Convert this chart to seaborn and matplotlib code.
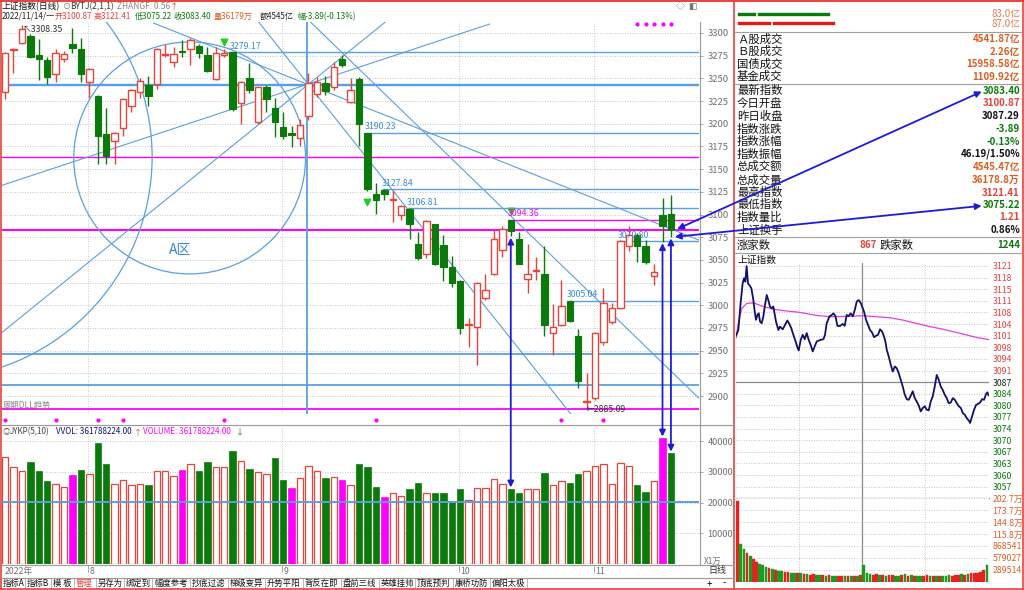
import numpy as np
import pandas as pd
import matplotlib.pyplot as plt
import seaborn as sns
from matplotlib.patches import Ellipse, ConnectionPatch
from matplotlib.lines import Line2D
from matplotlib.colors import to_rgba

# ---- 上证指数 日线 2022-07-18 .. 2022-11-14 ----
opens = [3235, 3281, 3289, 3297, 3276, 3270, 3255, 3271, 3288, 3282,
         3246, 3231, 3189, 3181, 3195, 3219, 3235, 3243, 3244, 3276,
         3268, 3279.5, 3282, 3286, 3276, 3249, 3276, 3278.7, 3223, 3250,
         3202, 3240, 3217, 3196, 3190, 3184, 3208, 3233, 3245, 3241,
         3271, 3224, 3249, 3190.23, 3123, 3127, 3116, 3100, 3106, 3068,
         3057, 3089, 3066, 3042, 3027, 2978, 2976, 3008, 3034, 3061,
         3094.36, 3073, 3029, 3038, 3034, 2969, 2978, 3005.04, 2966, 2893,
         2897.5, 2960, 2982, 2997, 3065, 3077, 3065, 3032, 3099, 3100.87]
highs = [3279, 3284, 3308.35, 3299, 3293, 3273, 3282, 3280, 3305, 3294,
         3261, 3232, 3217, 3191, 3228, 3238, 3250, 3253, 3283, 3288,
         3285, 3292, 3294, 3288, 3285, 3285, 3282, 3279.17, 3247, 3267,
         3241, 3243, 3228, 3213, 3197, 3205, 3256, 3251, 3253, 3268,
         3276, 3250, 3252, 3190.23, 3135, 3127.84, 3127, 3111, 3106.81, 3081,
         3094, 3090, 3077, 3054, 3028, 2986, 3026, 3035, 3083, 3087,
         3094.36, 3081, 3068, 3053, 3065, 3001, 3028, 3005.04, 2974, 2925,
         2970, 3019, 3002, 3072, 3087, 3080, 3072, 3046, 3118, 3121.41]
lows = [3227, 3256, 3288, 3272, 3248, 3244, 3246, 3268, 3278, 3246,
        3228, 3156, 3156, 3156, 3186, 3213, 3228, 3219, 3238, 3274,
        3263, 3274, 3265, 3272, 3257, 3248, 3274, 3214, 3200, 3234,
        3200, 3213, 3185, 3183, 3174, 3175, 3204, 3230, 3232, 3237,
        3262, 3223, 3175, 3126, 3101, 3116, 3092, 3094, 3073, 3050,
        3052, 3044, 3027, 3020, 2968, 2954, 2934, 3006, 3033, 3053,
        3076, 3045, 3014, 3028, 2966, 2945, 2977, 2982, 2909, 2885.09,
        2896, 2956, 2979, 2996, 3060, 3048, 3046, 3022, 3070, 3075.22]
closes = [3278, 3282, 3304, 3273, 3271, 3251, 3278, 3277, 3283, 3255,
          3260, 3186, 3164, 3190, 3227, 3237, 3247, 3231, 3282, 3277,
          3277, 3279, 3292, 3278, 3258, 3278, 3278, 3216, 3246, 3237,
          3240, 3227, 3202, 3186, 3188, 3199, 3245, 3246, 3236, 3263,
          3265, 3237, 3200, 3128, 3116, 3123, 3117, 3109, 3089, 3052,
          3093, 3046, 3042, 3024, 2975, 2979, 3025, 3017, 3073, 3084,
          3082, 3046, 3034, 3039, 2978, 2976, 2999, 2983, 2917, 2895,
          2969, 3003, 2997, 3070.8, 3077, 3065, 3048, 3037, 3087.29, 3083.40]
# 成交量 (万)
volumes = [35000, 31700, 30200, 33200, 30200, 27100, 26100, 25000, 28900, 30800,
           29500, 39600, 32600, 26100, 27500, 25600, 26100, 25800, 30200, 30200,
           28600, 30500, 32700, 30200, 33400, 31500, 31700, 36700, 33700, 31000,
           29900, 29500, 34500, 27500, 24900, 28000, 31900, 30200, 28200, 28400,
           27500, 25600, 32600, 31700, 25000, 21900, 23200, 22100, 24300, 26300,
           23200, 23000, 23000, 20300, 24300, 20800, 24700, 24900, 27800, 26200,
           24500, 23000, 24500, 24500, 29800, 25600, 26900, 26400, 29300, 30200,
           32100, 32600, 26100, 33000, 32100, 25600, 23600, 27100, 41100, 36179]
vol_kind = list("rrrgggrrmg" "rggrrrrgrr" "rmrggrrgrg" "rrggmrrrgr"
                "mrgggmrrgg" "rggggrrrrr" "ggrrgrrggr" "rrrrrggrmg")

month_starts = [10, 33, 54, 70]
month_labels = ['8', '9', '10', '11']
price_ticks = list(range(2900, 3301, 25))
vol_ticks = [10000, 20000, 30000, 40000]

# drawing-tool objects on the daily chart
full_levels = [(3243.0, 'blue', 1.7), (3163.0, 'mag', 1.0), (3082.9, 'mag', 1.5),
               (2946.0, 'blue', 1.3), (2912.5, 'blue', 1.3), (2885.7, 'mag', 1.3)]
start_levels = [(27, 3279.17, 'blue', '3279.17'), (43, 3190.23, 'blue', '3190.23'),
                (45, 3127.84, 'blue', '3127.84'), (48, 3106.81, 'blue', '3106.81'),
                (60, 3094.36, 'mag', '3094.36'), (73, 3070.80, 'blue', '3070.80'),
                (67, 3005.04, 'blue', '3005.04')]
fan_lines = [((-0.6, 3131.4), (57.5, 3309.9)), ((-0.6, 2968.3), (45.7, 3316.5)),
             ((17.6, 3311.0), (82.3, 3071.9)), ((29.9, 3314.3), (67.4, 2876.9)),
             ((35.5, 3318.7), (82.3, 2897.8))]
signal_top = [75, 76, 77, 78, 79]
signal_bottom = [0, 6, 11, 14, 26, 44, 66, 71]

# ---- 分时 ----
tick_minutes = [0, 2.2, 4.4, 6.3, 7.6, 8.9, 10.1, 11.4, 12.7, 14.6, 16.5, 17.8, 19, 20.3,
                21.6, 22.8, 24.4, 26, 27.6, 29.2, 30.7, 32.3, 33.9, 35.5, 38, 40.3, 41.8,
                44.4, 46.6, 48.8, 50.7, 52.6, 54.5, 56.4, 58.3, 59.6, 61.5, 63.4, 65.3,
                67.2, 69.1, 71, 72.9, 74.8, 76.7, 78.6, 80.5, 83.1, 84.6, 86.2, 88.8, 91,
                92.6, 94.5, 96.4, 98.9, 101.4, 103.3, 105.2, 107.1, 109, 111, 112.9,
                114.8, 116.7, 118.6, 120.5, 121.7, 123.6, 125.5, 127.4, 129.3, 131.2,
                133.1, 135, 136.9, 138.8, 140.7, 142, 143.3, 145.2, 147.1, 149, 150.9,
                152.8, 154.7, 156.6, 158.5, 160.4, 162.3, 164.2, 166.1, 168, 169.9,
                171.8, 173.7, 175.6, 177.5, 179.4, 181.3, 183.2, 185.1, 187, 188.9,
                190.8, 192.7, 194.6, 196.5, 198.4, 200.3, 202.2, 204.1, 206.1, 208,
                209.9, 211.8, 213.7, 215.6, 217.5, 219.4, 221.3, 222.5, 224.4, 226.3,
                228.2, 230.1, 232, 233.9, 235.8, 237.8, 239, 240]
tick_prices = [3100.9, 3102.6, 3110.5, 3116.3, 3117.8, 3116.8, 3121.4, 3116.3, 3115.8,
               3114.9, 3111.4, 3108.0, 3105.6, 3107.0, 3107.5, 3105.1, 3104.6, 3106.6,
               3110.0, 3112.9, 3111.4, 3109.5, 3109.0, 3109.5, 3105.1, 3102.6, 3103.6,
               3102.8, 3104.1, 3105.4, 3104.4, 3103.1, 3101.2, 3099.5, 3097.6, 3096.6,
               3099.7, 3101.2, 3099.9, 3101.7, 3099.7, 3098.2, 3096.3, 3097.8, 3099.2,
               3099.5, 3099.7, 3099.9, 3101.2, 3104.6, 3106.6, 3107.0, 3107.5, 3106.7,
               3103.8, 3103.8, 3104.4, 3103.8, 3107.0, 3106.7, 3107.5, 3106.6, 3108.5,
               3111.0, 3111.4, 3110.5, 3109.0, 3108.0, 3105.6, 3104.1, 3102.6, 3101.9,
               3100.5, 3100.9, 3101.2, 3102.8, 3102.2, 3100.7, 3099.2, 3096.8, 3094.8,
               3092.4, 3090.4, 3091.9, 3091.4, 3089.9, 3088.0, 3086.0, 3083.6, 3082.3,
               3082.1, 3083.3, 3084.6, 3082.6, 3081.6, 3080.4, 3078.7, 3079.7, 3080.2,
               3079.2, 3079.0, 3081.6, 3083.1, 3086.0, 3089.4, 3088.0, 3086.0, 3085.0,
               3083.6, 3082.6, 3081.1, 3081.3, 3082.6, 3082.1, 3081.1, 3080.2, 3079.7,
               3078.2, 3077.7, 3076.7, 3076.0, 3075.3, 3077.2, 3079.2, 3080.6, 3080.9,
               3081.3, 3082.3, 3082.1, 3083.9, 3084.3, 3083.4]
avg_minutes = [0, 2.2, 5.4, 10.1, 16.5, 26, 35.5, 45, 60.2, 76.7, 89.4, 105.2, 121,
               133.7, 146.4, 159, 171.8, 184.5, 197.2, 216, 228.8, 240]
avg_prices = [3100.2, 3104.5, 3108.9, 3110.4, 3110.6, 3109.5, 3108.7, 3108.3, 3107.8,
              3106.9, 3106.5, 3106.6, 3106.8, 3106.5, 3106.2, 3105.5, 3104.5, 3103.6,
              3102.8, 3101.4, 3100.4, 3099.8]
# 分时成交量, 每3分钟一根 (万股)
min_vol = [195, 92, 80, 70, 62, 55, 47, 42, 40, 36, 33, 30, 28, 27, 26, 24, 23, 22, 22, 21,
           20, 18, 19, 17, 18, 16, 17, 16, 15, 16, 15, 14, 15, 14, 15, 14, 15, 14, 15, 16,
           41, 22, 19, 17, 18, 16, 17, 15, 16, 17, 15, 14, 16, 18, 15, 16, 14, 15, 14, 15,
           16, 14, 13, 14, 15, 14, 15, 16, 15, 17, 16, 18, 17, 19, 20, 22, 21, 24, 29, 41]
min_vol_col = list("rggrgrrggg" "rgrggrrggr" "grgrrggrgr" "ggrrgrgrgr"
                   "gggrrgrgrr" "ggrgrgrggr" "rgrgrgggrr" "rgrgrrrrrg")
prev_close = 3087.29
intra_labels = ['3121', '3118', '3115', '3111', '3108', '3104', '3101', '3098', '3094', '3091',
                '3087', '3084', '3080', '3077', '3074', '3070', '3067', '3063', '3060', '3057']
ivol_labels = ['202.7万', '173.7万', '144.8万', '115.8万', '868541', '579027', '289514']

# ---- 右侧行情表 ----
flow_green = [17.6, 65.4]
flow_red = [30.8, 56.2]
table_labels = ['Ａ股成交', 'Ｂ股成交', '国债成交', '基金成交', '最新指数', '今日开盘', '昨日收盘',
                '指数涨跌', '指数涨幅', '指数振幅', '总成交额', '总成交量', '最高指数', '最低指数',
                '指数量比', '上证换手']
table_values = ['4541.87亿', '2.26亿', '15958.58亿', '1109.92亿', '3083.40', '3100.87', '3087.29',
                '-3.89', '-0.13%', '46.19/1.50%', '4545.47亿', '36178.8万', '3121.41', '3075.22',
                '1.21', '0.86%']
table_kind = ['o', 'o', 'o', 'o', 'g', 'r', 'k', 'g', 'g', 'k', 'o', 'o', 'r', 'g', 'r', 'k']
toolbar = ['指标A', '指标B', '模 板', '管理', '另存为', '绑定到', '幅度参考', '抄底过滤', '梯级变异',
           '升势平阳', '背反在即', '盘前三线', '英雄挂帅', '顶底预判', '康桥功防', '偏阳太极']

RED = '#e5433c'
GREEN = '#0a7a0a'
MAG = '#ff00ff'
BLUE_L = '#5aa0e0'
BLUE_T = '#3c8ad6'
DBLUE = '#1c1cd8'
NAVY = '#10106e'
ORANGE = '#dc5f22'
GRID = '#b4b4b4'
TXT = '#707070'
colmap = {'r': RED, 'g': GREEN, 'm': MAG, 'o': ORANGE, 'k': '#111111', 'blue': BLUE_L,
          'mag': MAG}

sns.set_theme(style='white')
plt.rcParams['font.family'] = ['Noto Sans CJK SC', 'DejaVu Sans']
plt.rcParams['axes.unicode_minus'] = False

W, H = 1024, 590
fig = plt.figure(figsize=(W / 100, H / 100), dpi=100)
fig.patch.set_facecolor('white')


def rect(x0, y0, x1, y1):
    return [x0 / W, 1 - y1 / H, (x1 - x0) / W, (y1 - y0) / H]


def ftext(x, y, s, **kw):
    kw.setdefault('va', 'center')
    fig.text(x / W, 1 - y / H, s, **kw)


def fline(x0, y0, x1, y1, color, lw=1.0):
    fig.add_artist(Line2D([x0 / W, x1 / W], [1 - y0 / H, 1 - y1 / H], color=color, lw=lw))


X_LO, X_HI = -0.36, 82.33
opens, highs, lows, closes = map(np.array, (opens, highs, lows, closes))
idx = np.arange(len(closes))

# ================= daily candles =================
ax = fig.add_axes(rect(2, 22, 699, 414))
ax.set_xlim(X_LO, X_HI)
ax.set_ylim(2880.2, 3312.1)
for v in price_ticks:
    ax.axhline(v, color=GRID, lw=0.6, ls=(0, (1, 2)), zorder=0)
for m in month_starts:
    ax.axvline(m - 0.15, color=GRID, lw=0.6, ls=(0, (1, 2)), zorder=0)

for lvl, c, lw in full_levels:
    ax.axhline(lvl, color=colmap[c], lw=lw, zorder=2)
for s, lvl, c, lab in start_levels:
    ax.hlines(lvl, s - 0.3, X_HI, color=colmap[c], lw=1.0, zorder=2)
    ax.text(s - 0.35, lvl + 1.5, lab, color=BLUE_T if c == 'blue' else MAG,
            fontsize=6.3, va='bottom', ha='left', zorder=6)
for (x0, y0), (x1, y1) in fan_lines:
    ax.plot([x0, x1], [y0, y1], color=BLUE_L, lw=0.8, zorder=2)
ax.axvline(35.85, color=BLUE_L, lw=1.3, zorder=2)
ax.add_patch(Ellipse((21.9, 3162.3), 27.5, 255.6, fill=False, ec=BLUE_L, lw=0.9, zorder=2))
ax.add_patch(Ellipse((-8.9, 3163.4), 52.7, 489.3, fill=False, ec=BLUE_L, lw=0.9, zorder=2))
ax.text(20.8, 3061, 'A区', color=BLUE_T, fontsize=10, ha='center', va='center')

up = closes >= opens
ccol = np.where(up, RED, GREEN)
ax.vlines(idx, lows, highs, colors=ccol, lw=1.0, zorder=3)
body_lo = np.minimum(opens, closes)
body_h = np.maximum(np.abs(closes - opens), 0.6)
ax.bar(idx[up], body_h[up], bottom=body_lo[up], width=0.76, facecolor='white',
       edgecolor=RED, lw=1.0, zorder=4)
ax.bar(idx[~up], body_h[~up], bottom=body_lo[~up], width=0.76, facecolor=GREEN,
       edgecolor=GREEN, lw=0.8, zorder=4)

ax.scatter([26, 43, 60], [highs[26] + 8, lows[43] - 12, highs[60] + 9], marker='v',
           s=22, color='#22cc22', zorder=5)
ax.scatter(signal_top, [3310] * len(signal_top), s=4, color=MAG, zorder=5)
ax.scatter(signal_bottom, [2873.6] * len(signal_bottom), s=4, color=MAG, zorder=5,
           clip_on=False)
ax.text(2.05, 3303.3, '↖3308.35', fontsize=6.3, color='#333333', va='center', ha='left')
ax.text(68.9, 2885.2, '←2885.09', fontsize=6.3, color='#333333', va='center', ha='left')
ax.text(-0.3, 2890, '周期DLL趋势', fontsize=6, color='#888888', va='center', ha='left')

ax.set_xticks([])
ax.yaxis.tick_right()
ax.set_yticks(price_ticks)
ax.tick_params(axis='y', right=True, length=3, width=0.6, color='#999999',
               labelsize=6.8, labelcolor=TXT, pad=3)
for sp in ax.spines.values():
    sp.set_visible(False)

# ================= volume =================
axv = fig.add_axes(rect(2, 428, 699, 564))
dfv = pd.DataFrame({'idx': idx, 'vol': volumes, 'kind': vol_kind})
sns.barplot(data=dfv, x='idx', y='vol', hue='kind', palette={'r': RED, 'g': GREEN, 'm': MAG},
            native_scale=True, dodge=False, width=0.76, saturation=1, errorbar=None,
            legend=False, ax=axv, zorder=3)
red_rgba = to_rgba(RED)
for p in axv.patches:
    fc = p.get_facecolor()
    if np.allclose(fc, red_rgba, atol=0.02):
        p.set_facecolor('white')
        p.set_edgecolor(RED)
        p.set_linewidth(0.9)
    else:
        p.set_edgecolor(fc)
        p.set_linewidth(0.5)
axv.set_xlim(X_LO, X_HI)
axv.set_ylim(0, 44340)
for v in vol_ticks:
    axv.axhline(v, color=GRID, lw=0.6, ls=(0, (1, 2)), zorder=0)
for m in month_starts:
    axv.axvline(m - 0.15, color=GRID, lw=0.6, ls=(0, (1, 2)), zorder=0)
axv.axhline(20100, color=BLUE_L, lw=1.4, zorder=4)
axv.set_xlabel('')
axv.set_ylabel('')
axv.set_xticks([])
axv.yaxis.tick_right()
axv.set_yticks(vol_ticks)
axv.tick_params(axis='y', right=True, length=3, width=0.6, color='#999999',
                labelsize=6.6, labelcolor=TXT, pad=3)
for sp in axv.spines.values():
    sp.set_visible(False)

# arrows between candles, volume and the quote table
for i in [60, 78, 79]:
    con = ConnectionPatch(xyA=(i, lows[i]), coordsA=ax.transData, xyB=(i, volumes[i]),
                          coordsB=axv.transData, arrowstyle='<|-|>', color=DBLUE, lw=1.3,
                          mutation_scale=9, shrinkA=1, shrinkB=1, zorder=10)
    fig.add_artist(con)
for (xa, ya), yb in [((79.6, closes[79]), 91), ((79.3, lows[79]), 205.7)]:
    con = ConnectionPatch(xyA=(xa, ya), coordsA=ax.transData, xyB=(983 / W, 1 - yb / H),
                          coordsB=fig.transFigure, arrowstyle='<|-|>', color=DBLUE, lw=1.3,
                          mutation_scale=9, shrinkA=1, shrinkB=1, zorder=10)
    fig.add_artist(con)

# ================= headers =================
ftext(2, 6.5, '上证指数(日线)', fontsize=6.3, color='#111111', ha='left')
ftext(63, 6.5, '⊙', fontsize=5.8, color='#777777', ha='left')
ftext(70, 6.5, 'BYTJ(2,1,1)', fontsize=6, color='#333333', ha='left')
ftext(117, 6.5, 'ZHANGF: 0.56', fontsize=6, color='#888888', ha='left')
ftext(170, 6.5, '↑', fontsize=6, color=RED, ha='left')
ftext(676, 7, '◇', fontsize=6.5, color='#777777', ha='left')
ftext(688, 7, '◧', fontsize=6.5, color='#777777', ha='left')
head2 = [(2, '2022/11/14/一', '#222222'), (55, '开3100.87', RED), (94, '高3121.41', RED),
         (135, '低3075.22', GREEN), (174, '收3083.40', GREEN), (214, '量36179万', ORANGE),
         (260, '额4545亿', '#222222'), (297, '幅-3.89(-0.13%)', GREEN)]
for x, s, c in head2:
    ftext(x, 16.5, s, fontsize=5.8, color=c, ha='left')

ftext(3, 432, '◎', fontsize=5.5, color='#666666', ha='left')
ftext(10, 432, 'JYKP(5,10)', fontsize=5.8, color='#444444', ha='left')
ftext(56, 432, 'VVOL: 361788224.00', fontsize=5.8, color=NAVY, ha='left')
ftext(134, 432, '↑', fontsize=5.8, color=RED, ha='left')
ftext(143, 432, 'VOLUME: 361788224.00', fontsize=5.8, color=MAG, ha='left')
ftext(236, 432, '↓', fontsize=5.8, color=GREEN, ha='left')
ftext(704, 561, 'X1万', fontsize=6, color=TXT, ha='left')

# date strip
axd = fig.add_axes(rect(2, 565, 699, 577))
axd.set_xlim(X_LO, X_HI)
axd.set_ylim(0, 1)
axd.axis('off')
axd.text(0, 0.45, '2022年', fontsize=6.3, color=TXT, ha='left', va='center')
for m, lab in zip(month_starts, month_labels):
    axd.plot([m - 0.15, m - 0.15], [0.4, 1], color='#999999', lw=0.6)
    axd.text(m + 0.05, 0.45, lab, fontsize=6.3, color=TXT, ha='left', va='center')
ftext(708, 571, '日线', fontsize=6.5, color='#333333', ha='left')

# toolbar
tb_x = [2, 26, 52, 75, 97, 125, 153, 191, 229, 266, 304, 342, 380, 416, 454, 491]
for x, s in zip(tb_x, toolbar):
    ftext(x + 1, 583.5, s, fontsize=6, color=RED if s == '管理' else '#111111', ha='left')
    fline(x - 1, 578, x - 1, 589, '#b0b0b0', 0.6)
fline(527, 578, 527, 589, '#b0b0b0', 0.6)
ftext(707, 583.5, '+', fontsize=7, color='#111111', ha='left')
ftext(723, 583.5, '-', fontsize=7, color='#111111', ha='left')

# frame lines
fline(0, 1, 1024, 1, RED, 1.4)
fline(1, 0, 1, 589, RED, 1.2)
fline(0, 589, 1024, 589, RED, 1.2)
fline(734, 0, 734, 589, RED, 1.2)
fline(1022.5, 0, 1022.5, 589, RED, 1.2)
fline(699.5, 22, 699.5, 565, '#9a9a9a', 0.8)
fline(1, 425, 734, 425, '#9a9a9a', 0.8)
fline(1, 564.5, 734, 564.5, '#9a9a9a', 0.8)
fline(1, 577.5, 734, 577.5, '#9a9a9a', 0.8)

# ================= right panel: quote table =================
axf = fig.add_axes(rect(737, 9, 1020, 29))
axf.barh([0, 0], flow_green, left=[0, flow_green[0]], height=0.6, color=GREEN,
         edgecolor='white', lw=1.2)
axf.barh([1, 1], flow_red, left=[0, flow_red[0]], height=0.6, color='#e81818',
         edgecolor='white', lw=1.2)
axf.set_xlim(0, 248.7)
axf.set_ylim(-0.6, 1.6)
axf.invert_yaxis()
axf.axis('off')
ftext(1020, 13.5, '83.0亿', fontsize=7, color='#e08058', ha='right')
ftext(1020, 23.5, '87.0亿', fontsize=7, color='#e08058', ha='right')

row_y = [39.3, 51.7, 64, 76.7, 90.7, 103.3, 116.3, 129, 141.7, 154, 166.7, 180, 192.7,
         204.7, 217.3, 230]
for y, lab, val, k in zip(row_y, table_labels, table_values, table_kind):
    ftext(737, y, lab, fontsize=8.2, color='#111111', ha='left')
    ftext(1020, y, val, fontsize=7, color=colmap[k], ha='right', fontweight='bold')
for y in [31.7, 84, 237.3, 253.3]:
    fline(735, y, 1021, y, '#a0a0a0', 0.8)
ftext(737, 245.5, '涨家数', fontsize=8.2, color='#111111', ha='left')
ftext(877, 245.5, '867', fontsize=7, color=RED, ha='right', fontweight='bold')
ftext(880, 245.5, '跌家数', fontsize=8.2, color='#111111', ha='left')
ftext(1020, 245.5, '1244', fontsize=7, color=GREEN, ha='right', fontweight='bold')
ftext(737, 260, '上证指数', fontsize=7, color='#111111', ha='left')

# ================= right panel: intraday =================
axi = fig.add_axes(rect(736, 263.3, 988.5, 498.3))
axi.set_xlim(0, 240)
axi.set_ylim(3053.17, 3122.2)
itick = [prev_close + 3.412 * k for k in range(10, -10, -1)]
for v in itick:
    axi.axhline(v, color=GRID, lw=0.6, ls=(0, (1, 2)), zorder=0)
axi.axhline(prev_close, color='#8a8a8a', lw=0.9, zorder=1)
for m in [60, 180]:
    axi.axvline(m, color=GRID, lw=0.6, ls=(0, (1, 2)), zorder=0)
axi.axvline(120, color='#8a8a8a', lw=0.9, zorder=1)
sns.lineplot(x=avg_minutes, y=avg_prices, color='#e040e0', lw=0.9, ax=axi, zorder=3)
sns.lineplot(x=tick_minutes, y=tick_prices, color=NAVY, lw=1.3, ax=axi, zorder=4,
             sort=False)
axi.set_xticks([])
axi.yaxis.tick_right()
axi.set_yticks(itick)
axi.set_yticklabels(intra_labels)
axi.tick_params(axis='y', right=False, length=0, labelsize=6.3, pad=3)
for i, t in enumerate(axi.get_yticklabels()):
    t.set_color(RED if i < 10 else ('#222222' if i == 10 else GREEN))
for sp in axi.spines.values():
    sp.set_visible(False)
axi.spines['bottom'].set_visible(True)
axi.spines['bottom'].set_color('#8a8a8a')
axi.spines['bottom'].set_linewidth(0.9)

axiv = fig.add_axes(rect(736, 498.3, 988.5, 581.7))
dfi = pd.DataFrame({'m': np.arange(len(min_vol)) * 3 + 1.5,
                    'v': np.array(min_vol) * 10000, 'c': min_vol_col})
sns.barplot(data=dfi, x='m', y='v', hue='c', palette={'r': '#e82020', 'g': '#1e9a1e'},
            native_scale=True, dodge=False, width=0.85, saturation=1, errorbar=None,
            legend=False, ax=axiv, zorder=3)
for p in axiv.patches:
    p.set_edgecolor(p.get_facecolor())
    p.set_linewidth(0.3)
axiv.set_xlim(0, 240)
ivt = [289514 * k for k in range(7, 0, -1)]
axiv.set_ylim(0, 289514 * 7)
for v in ivt:
    axiv.axhline(v, color=GRID, lw=0.6, ls=(0, (1, 2)), zorder=0)
for m in [60, 180]:
    axiv.axvline(m, color=GRID, lw=0.6, ls=(0, (1, 2)), zorder=0)
axiv.axvline(120, color='#8a8a8a', lw=0.9, zorder=1)
axiv.set_xlabel('')
axiv.set_ylabel('')
axiv.set_xticks([])
axiv.yaxis.tick_right()
axiv.set_yticks(ivt)
axiv.set_yticklabels(ivol_labels)
axiv.tick_params(axis='y', right=False, length=0, labelsize=6.3, labelcolor=ORANGE, pad=3)
for sp in axiv.spines.values():
    sp.set_visible(False)

fig.savefig('out.png', dpi=100)
